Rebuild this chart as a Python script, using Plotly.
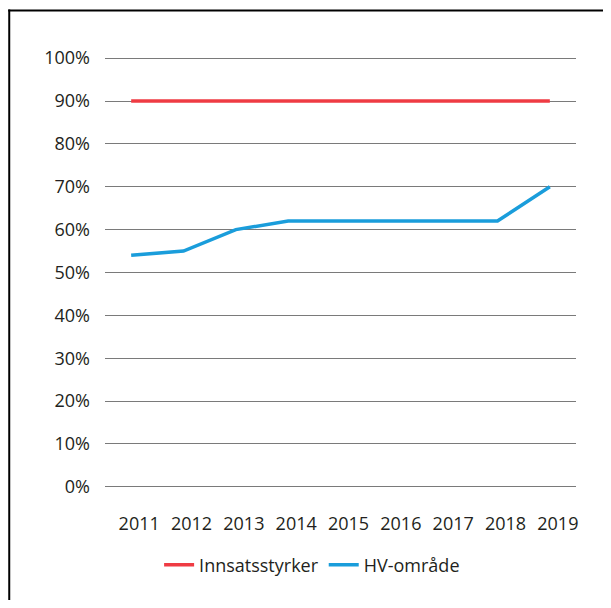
import plotly.graph_objects as go

years = ["2011", "2012", "2013", "2014", "2015", "2016", "2017", "2018", "2019"]
innsatsstyrker = [0.90, 0.90, 0.90, 0.90, 0.90, 0.90, 0.90, 0.90, 0.90]
hv_omrade = [0.54, 0.55, 0.60, 0.62, 0.62, 0.62, 0.62, 0.62, 0.70]
y_ticks = [0, 0.1, 0.2, 0.3, 0.4, 0.5, 0.6, 0.7, 0.8, 0.9, 1.0]
y_ticklabels = ["0%", "10%", "20%", "30%", "40%", "50%", "60%", "70%", "80%", "90%", "100%"]

OFF = 8  # page body margin
W, H = 611 - OFF, 608 - 2 * OFF
L, R, T, B = 104.8 - OFF, 576.0 - OFF, 56.4 - OFF, 489.1 - OFF
pw, ph = R - L, B - T

def px_x(x):
    return (x - OFF - L) / pw

def px_y(y):
    return (B - (y - OFF)) / ph

TXT = "#231f20"
FONT = "Open Sans"

fig = go.Figure()
fig.add_trace(go.Scatter(x=years, y=innsatsstyrker, mode="lines", name="Innsatsstyrker",
                         line=dict(color="#ef3b43", width=3.5)))
fig.add_trace(go.Scatter(x=years, y=hv_omrade, mode="lines", name="HV-område",
                         line=dict(color="#1a9ddb", width=3.5)))

fig.update_layout(
    width=W, height=H,
    margin=dict(l=L, r=W - R, t=T, b=H - B, pad=0),
    paper_bgcolor="white", plot_bgcolor="white",
    font=dict(family=FONT, size=18, color=TXT),
    showlegend=True,
    legend=dict(orientation="h", x=px_x(312), xanchor="center", y=px_y(565), yanchor="middle",
                font=dict(family=FONT, size=18, color=TXT), itemwidth=30, traceorder="normal"),
    shapes=[
        dict(type="line", xref="paper", yref="paper",
             x0=px_x(8), x1=px_x(OFF + W), y0=px_y(11), y1=px_y(11),
             line=dict(color="black", width=2), layer="above"),
        dict(type="line", xref="paper", yref="paper",
             x0=px_x(9), x1=px_x(9), y0=px_y(10), y1=px_y(OFF + H),
             line=dict(color="black", width=2), layer="above"),
    ],
)
fig.update_xaxes(type="category", range=[-0.5, 8.5], showgrid=False, zeroline=False, showline=False,
                 ticks="outside", ticklen=0, ticklabelstandoff=18, ticklabelshift=8,
                 tickfont=dict(family=FONT, size=18, color=TXT))
fig.update_yaxes(range=[-0.005, 1.005], tickvals=y_ticks, ticktext=y_ticklabels,
                 showgrid=True, gridcolor="#7a7a7a", gridwidth=1, zeroline=False, showline=False,
                 ticks="", ticklabelstandoff=14, tickfont=dict(family=FONT, size=18, color=TXT))

fig.write_html("out.html")
